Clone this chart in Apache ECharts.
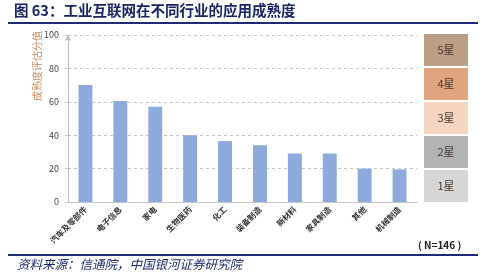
<!DOCTYPE html>
<html>
<head>
<meta charset="utf-8">
<script src="https://cdn.jsdelivr.net/npm/echarts@6/dist/echarts.min.js"></script>
<style>
  html, body { margin: 0; padding: 0; background: #fff; }
  #chart { width: 499px; height: 276px; }
</style>
</head>
<body>
<div id="chart"></div>
<script>
// 数据
var categories = ["汽车及零部件", "电子信息", "家电", "生物医药", "化工", "装备制造", "新材料", "家具制造", "其他", "机械制造"];
var values = [70, 60.5, 57, 40, 36.5, 34, 29, 29, 20, 19.5];
var yTicks = [0, 20, 40, 60, 80, 100];
var levels = ["5星", "4星", "3星", "2星", "1星"];
var levelColors = ["#bc9d85", "#e0a47f", "#f6d6c1", "#b3b3b3", "#d6d6d6"];

var myChart = echarts.init(document.getElementById("chart"));

var font = "'Noto Sans CJK SC', 'Noto Sans', sans-serif";

// 右侧星级方块
var boxes = [];
levels.forEach(function (name, i) {
  boxes.push({
    type: "rect",
    left: 424,
    top: 34 + i * 34,
    shape: { width: 44, height: 32 },
    style: { fill: levelColors[i] }
  });
  boxes.push({
    type: "text",
    x: 446,
    y: 50 + i * 34,
    style: { text: name, fill: "#4a3a30", font: "11px " + font, align: "center", verticalAlign: "middle" }
  });
});

myChart.setOption({
  animation: false,
  textStyle: { fontFamily: font },
  grid: {
    left: 68,
    right: 82,
    top: 35,
    bottom: 74,
    containLabel: false
  },
  xAxis: {
    type: "category",
    data: categories,
    axisLine: { lineStyle: { color: "#c8c8c8", width: 1 } },
    axisTick: { show: false },
    axisLabel: {
      rotate: 45,
      fontSize: 8,
      fontWeight: "bold",
      color: "#333",
      margin: 6,
      interval: 0
    }
  },
  yAxis: {
    type: "value",
    min: yTicks[0],
    max: yTicks[yTicks.length - 1],
    interval: 20,
    axisLine: {
      show: true,
      symbol: ["none", "arrow"],
      symbolSize: [5, 6],
      lineStyle: { color: "#bdbdbd", width: 1 }
    },
    axisTick: { show: true, length: 3, lineStyle: { color: "#ccc" } },
    axisLabel: { fontSize: 9, color: "#444", margin: 9 },
    splitLine: { show: true, lineStyle: { color: "#c8c8c8", type: [3, 3] } }
  },
  series: [
    {
      type: "bar",
      data: values,
      barWidth: "40%",
      itemStyle: { color: "#8eaadc" }
    }
  ],
  graphic: [
    {
      type: "text",
      left: 14,
      top: 3,
      style: { text: "图 63：工业互联网在不同行业的应用成熟度", fill: "#1a2466", font: "bold 14.5px " + font }
    },
    {
      type: "line",
      shape: { x1: 8, y1: 23, x2: 478, y2: 23 },
      style: { stroke: "#1f2a7a", lineWidth: 2 }
    },
    {
      type: "text",
      x: 37,
      y: 66,
      rotation: Math.PI / 2,
      style: { text: "成熟度评估分值", fill: "#c98a5c", font: "10px " + font, align: "center", verticalAlign: "middle" }
    },
    {
      type: "text",
      left: 418,
      top: 240,
      style: { text: "( N=146 )", fill: "#222", font: "bold 10px " + font }
    },
    {
      type: "line",
      shape: { x1: 8, y1: 255, x2: 478, y2: 255 },
      style: { stroke: "#1f2a7a", lineWidth: 2 }
    },
    {
      type: "text",
      left: 17,
      top: 258,
      style: { text: "资料来源：信通院，中国银河证券研究院", fill: "#1f2a6e", font: "italic 12.5px " + font }
    }
  ].concat(boxes)
});
</script>
</body>
</html>
